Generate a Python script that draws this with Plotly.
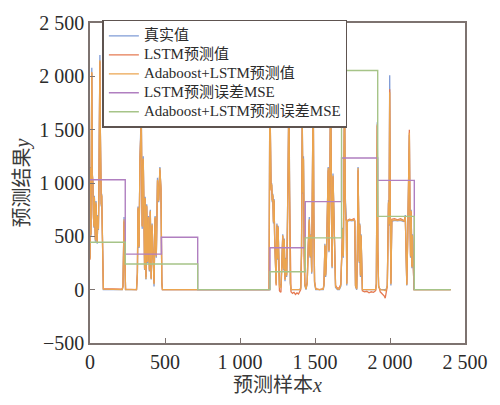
import plotly.graph_objects as go

# ---- sample positions (shared by the three value series) ----
X = [0, 3, 6, 9, 12, 15, 19, 23, 26, 29, 32, 36, 40, 44, 48, 52, 56, 59, 62, 66, 69, 72, 75, 78, 81, 85, 89,
     215, 220, 227, 232, 237, 310,
     316, 320, 327, 333, 342, 348, 355, 360, 364, 368, 373, 378, 384, 390, 396, 402, 408, 414, 420, 427, 434, 442, 450, 458, 466, 473, 479, 483, 1194,
     1199, 1203, 1207, 1211, 1215, 1219, 1223, 1227, 1231, 1236, 1241, 1246, 1250, 1254, 1258, 1263, 1268, 1273, 1279, 1285, 1290, 1295, 1300, 1306, 1311, 1316, 1321, 1326, 1330, 1335, 1340, 1350, 1360, 1370, 1380, 1390, 1398,
     1405, 1410, 1415, 1419, 1423, 1427, 1432, 1440, 1448, 1455, 1462, 1467, 1473, 1478, 1483, 1488, 1492, 1497, 1505, 1530, 1555, 1560, 1566, 1571, 1576, 1582, 1588, 1593, 1598, 1604, 1609, 1614, 1620, 1626, 1632, 1637, 1650, 1662, 1672, 1678, 1684, 1689, 1693, 1697, 1701, 1705, 1709, 1712, 1716, 1730, 1745, 1760, 1765, 1770, 1778, 1783, 1787, 1791, 1795, 1799, 1803, 1807, 1811, 1816, 1830, 1845, 1860, 1875, 1890, 1904,
     1909, 1912, 1915, 1919, 1924, 1935, 1950, 1962, 1968, 1974, 1982, 1986, 1990, 1994, 1998, 2002, 2006, 2012, 2030, 2050, 2070, 2090, 2096, 2102, 2107, 2112, 2118, 2123, 2129, 2133, 2137, 2141, 2146, 2150, 2155, 2160, 2405]

TRUE_VAL = [300, 1150, 500, 1300, 2080, 1100, 1000, 700, 580, 880, 700, 450, 830, 520, 430, 700, 560, 900, 1350, 2200, 1500, 1020, 780, 900, 480, 80, 0,
            0, 30, 680, 80, 0, 0,
            150, 780, 390, 1230, 1680, 570, 1250, 680, 185, 870, 95, 800, 250, 690, 170, 750, 95, 620, 330, 30, 690, 300, 1050, 820, 1150, 930, 60, 0, 0,
            2000, 1400, 950, 1000, 820, 900, 620, 850, 480, 160, 60, 620, 280, 600, 120, 40, 50, 30, 250, 520, 180, 480, 80, 300, 120, 480, 1150, 1900, 900, 60, 0, 0, 0, 0, 0, 0, 0,
            20, 350, 1620, 900, 1250, 300, 40, 0, 60, 420, 680, 300, 520, 150, 900, 2000, 700, 60, 0, 0, 0, 40, 430, 120, 300, 700, 1150, 350, 800, 1950, 500, 200, 1090, 700, 300, 20, 0, 0, 30, 250, 580, 300, 1000, 1970, 900, 660, 650, 40, 640, 650, 645, 650, 640, 30, 0, 400, 1150, 700, 250, 620, 120, 520, 60, 0, 0, 0, 0, 0, 0, 0,
            60, 560, 1570, 350, 30, 0, 0, 0, 0, 0, 40, 450, 840, 600, 2010, 700, 40, 640, 650, 645, 650, 640, 650, 700, 400, 40, 500, 900, 1450, 700, 300, 750, 200, 520, 80, 0, 0]

LSTM_PRED = [280, 1120, 520, 1250, 2030, 1080, 1020, 680, 600, 860, 720, 470, 800, 540, 450, 680, 580, 880, 1300, 2140, 1480, 1000, 800, 880, 500, 100, 10,
             5, 40, 640, 90, 5, 0,
             160, 760, 410, 1200, 1600, 600, 1220, 700, 200, 850, 120, 780, 270, 670, 190, 730, 110, 600, 350, 60, 670, 320, 1020, 840, 1120, 950, 70, 0, 0,
             1950, 1420, 930, 980, 840, 880, 640, 830, 500, 180, 40, 600, 300, 580, 140, -10, -20, -25, 230, 500, 200, 460, 100, 280, 140, 460, 1120, 1860, 920, 80, -20, -35, -25, -45, -30, -40, -15,
             0, 330, 1580, 920, 1220, 320, 60, 10, 70, 400, 650, 320, 500, 170, 880, 1950, 720, 80, 10, 0, 10, 60, 410, 140, 280, 680, 1120, 370, 780, 1900, 520, 220, 1060, 720, 320, 40, 10, 20, 50, 230, 560, 320, 980, 1880, 920, 650, 660, 60, 650, 660, 655, 665, 650, 40, 10, 380, 1120, 690, 270, 600, 140, 500, 80, -10, -20, -15, -30, -20, -25, -10,
             50, 540, 1540, 370, 40, -20, -40, -60, -80, -30, 30, 430, 810, 620, 1880, 720, 60, 660, 665, 655, 665, 650, 640, 680, 420, 50, 480, 880, 1500, 720, 320, 730, 220, 500, 100, 0, 0]

ADA_PRED = [290, 1140, 510, 1280, 2040, 1090, 1000, 700, 590, 870, 700, 460, 820, 530, 440, 690, 570, 890, 1320, 2150, 1490, 1010, 790, 890, 490, 90, 5,
            0, 30, 660, 80, 0, 0,
            150, 770, 400, 1210, 1620, 590, 1230, 690, 190, 860, 100, 790, 260, 680, 180, 740, 100, 610, 340, 50, 680, 310, 1030, 830, 1140, 940, 60, 0, 0,
            1970, 1410, 940, 990, 830, 890, 630, 840, 490, 170, 50, 610, 290, 590, 130, 20, 30, 20, 240, 510, 190, 470, 90, 290, 130, 470, 1130, 1880, 910, 70, 0, 0, 0, 0, 0, 0, 0,
            10, 340, 1600, 910, 1230, 310, 50, 5, 60, 410, 660, 310, 510, 160, 890, 1970, 710, 70, 5, 0, 5, 50, 420, 130, 290, 690, 1140, 360, 790, 1920, 510, 210, 1070, 710, 310, 30, 5, 5, 40, 240, 570, 310, 990, 1900, 910, 650, 655, 50, 645, 655, 650, 655, 645, 35, 5, 390, 1140, 700, 260, 610, 130, 510, 70, 0, 0, 0, 0, 0, 0, 0,
            55, 550, 1550, 360, 30, 0, 0, -5, -10, 0, 35, 440, 820, 610, 1850, 710, 50, 650, 655, 650, 655, 645, 645, 690, 410, 45, 490, 890, 1470, 710, 310, 740, 210, 510, 90, 0, 0]

# ---- MSE step series ----
MSE_LSTM_X = [0, 235, 476, 718, 1200, 1435, 1677, 1918, 2162]
MSE_LSTM = [1030, 333, 492, 0, 393, 825, 1235, 1025, 0]
MSE_ADA_X = [0, 235, 718, 1200, 1435, 1677, 1918, 2162, 2404]
MSE_ADA = [444, 240, 0, 168, 486, 2054, 687, 0, 0]

NAMES = ["真实值", "LSTM预测值", "Adaboost+LSTM预测值", "LSTM预测误差MSE", "Adaboost+LSTM预测误差MSE"]
XTICKS = [0, 500, 1000, 1500, 2000, 2500]
XTICKTEXT = ["0", "500", "1 000", "1 500", "2 000", "2 500"]
YTICKS = [-500, 0, 500, 1000, 1500, 2000, 2500]
YTICKTEXT = ["−500", "0", "500", "1 000", "1 500", "2 000", "2 500"]

assert len(X) == len(TRUE_VAL) == len(LSTM_PRED) == len(ADA_PRED)

COLORS = ["#7f9bd6", "#e57a52", "#eba550", "#b07fc0", "#a6c488"]
SERIF = "Liberation Serif, Noto Sans CJK SC, serif"


def lab(s):
    return '<span style="font-size:15px">' + s + '</span>'


fig = go.Figure()
fig.add_trace(go.Scatter(x=X, y=TRUE_VAL, mode="lines", name=lab(NAMES[0]),
                         line=dict(color=COLORS[0], width=1.3)))
fig.add_trace(go.Scatter(x=X, y=LSTM_PRED, mode="lines", name=lab(NAMES[1]),
                         line=dict(color=COLORS[1], width=1.3)))
fig.add_trace(go.Scatter(x=X, y=ADA_PRED, mode="lines", name=lab(NAMES[2]),
                         line=dict(color=COLORS[2], width=1.3)))
fig.add_trace(go.Scatter(x=MSE_LSTM_X, y=MSE_LSTM, mode="lines", name=lab(NAMES[3]),
                         line=dict(color=COLORS[3], width=1.4, shape="hv")))
fig.add_trace(go.Scatter(x=MSE_ADA_X, y=MSE_ADA, mode="lines", name=lab(NAMES[4]),
                         line=dict(color=COLORS[4], width=1.4, shape="hv")))

axis_common = dict(
    ticks="inside", ticklen=5, tickwidth=1, tickcolor="#7d7370",
    showline=True, linecolor="#7d7370", linewidth=1.5, mirror=True,
    showgrid=False, zeroline=False,
    tickfont=dict(family=SERIF, size=20, color="#2b2b2b"),
)

fig.update_layout(
    width=500, height=405,
    margin=dict(l=90, r=28, t=15, b=56),
    paper_bgcolor="white", plot_bgcolor="white",
    xaxis=dict(range=[0, 2500], tickvals=XTICKS, ticktext=XTICKTEXT,
               title=dict(text="预测样本<i>x</i>", font=dict(family=SERIF, size=20, color="#3a3a3a"), standoff=6),
               **axis_common),
    yaxis=dict(range=[-500, 2500], tickvals=YTICKS, ticktext=YTICKTEXT,
               title=dict(text="预测结果<i>y</i>", font=dict(family=SERIF, size=20, color="#3a3a3a"), standoff=4),
               **axis_common),
    legend=dict(x=0.033, y=1.01, xanchor="left", yanchor="top",
                bgcolor="white", bordercolor="#5e5450", borderwidth=1.5,
                font=dict(family=SERIF, size=12, color="#2b2b2b"),
                tracegroupgap=0),
    showlegend=True,
)

fig.write_html("out.html")
